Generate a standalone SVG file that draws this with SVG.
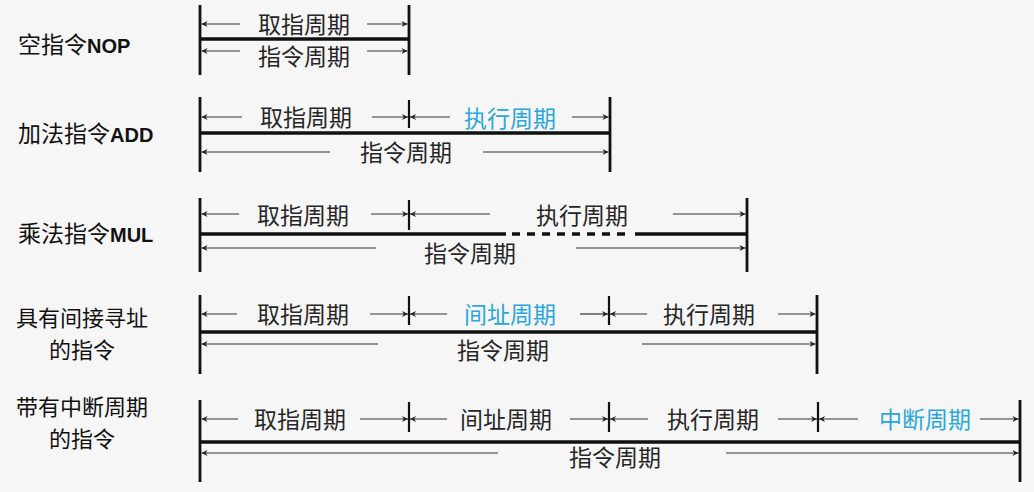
<svg xmlns="http://www.w3.org/2000/svg" width="1034" height="492" viewBox="0 0 1034 492">
<defs>
<style>
.bg{fill:#f6f6f6}
.v{stroke:#111;stroke-width:2.8;fill:none}
.t{stroke:#111;stroke-width:2.2;fill:none}
.th{stroke:#111;stroke-width:3.4;fill:none}
.dash{stroke:#111;stroke-width:3.4;fill:none;stroke-dasharray:8 7}
.a{stroke:#333;stroke-width:1.2;fill:none;marker-end:url(#ah)}
.lbl{font-family:"Noto Sans CJK SC",sans-serif;font-size:23px;fill:#262626;text-anchor:middle}
.blue{fill:#2aa6dd}
.name{font-family:"Noto Sans CJK SC",sans-serif;font-size:23px;fill:#111}
.en{font-family:"Liberation Sans",Arial,sans-serif;font-weight:bold;font-size:20px}
.nm{text-anchor:middle;font-size:22px}
</style>
<marker id="ah" viewBox="0 0 10 10" refX="10" refY="5" markerWidth="8" markerHeight="6" markerUnits="userSpaceOnUse" orient="auto">
<path d="M0,0 L10,5 L0,10 L3,5 z" fill="#222"/>
</marker>
</defs>
<rect class="bg" x="0" y="0" width="1034" height="492"/>

<g id="row-nop">
<text class="name" x="18" y="53">空指令<tspan class="en">NOP</tspan></text>
<line class="v" x1="200" y1="5" x2="200" y2="75"/>
<line class="v" x1="409" y1="5" x2="409" y2="75"/>
<line class="th" x1="200" y1="39" x2="409" y2="39"/>
<text class="lbl" x="304" y="33">取指周期</text>
<text class="lbl" x="304" y="65">指令周期</text>
</g>

<g id="row-add">
<text class="name" x="18" y="142">加法指令<tspan class="en">ADD</tspan></text>
<line class="v" x1="200" y1="97" x2="200" y2="172"/>
<line class="t" x1="409" y1="100" x2="409" y2="128"/>
<line class="v" x1="610" y1="97" x2="610" y2="172"/>
<line class="th" x1="200" y1="133" x2="610" y2="133"/>
<text class="lbl" x="306" y="126">取指周期</text>
<text class="lbl blue" x="510" y="127">执行周期</text>
<text class="lbl" x="406" y="161">指令周期</text>
</g>

<g id="row-mul">
<text class="name" x="18" y="242">乘法指令<tspan class="en">MUL</tspan></text>
<line class="v" x1="200" y1="198" x2="200" y2="272"/>
<line class="t" x1="409" y1="200" x2="409" y2="230"/>
<line class="v" x1="747" y1="198" x2="747" y2="272"/>
<line class="th" x1="200" y1="234" x2="506" y2="234"/>
<line class="dash" x1="512" y1="234" x2="632" y2="234"/>
<line class="th" x1="635" y1="234" x2="747" y2="234"/>
<text class="lbl" x="303" y="224">取指周期</text>
<text class="lbl" x="582" y="224">执行周期</text>
<text class="lbl" x="470" y="262">指令周期</text>
</g>

<g id="row-indirect">
<text class="name nm" x="82" y="326">具有间接寻址</text>
<text class="name nm" x="82" y="358">的指令</text>
<line class="v" x1="200" y1="295" x2="200" y2="374"/>
<line class="t" x1="409" y1="296" x2="409" y2="325"/>
<line class="t" x1="609" y1="296" x2="609" y2="325"/>
<line class="v" x1="817" y1="295" x2="817" y2="374"/>
<line class="th" x1="200" y1="332" x2="817" y2="332"/>
<text class="lbl" x="303" y="323">取指周期</text>
<text class="lbl blue" x="510" y="323">间址周期</text>
<text class="lbl" x="709" y="323">执行周期</text>
<text class="lbl" x="503" y="359">指令周期</text>
</g>

<g id="row-interrupt">
<text class="name nm" x="82" y="415">带有中断周期</text>
<text class="name nm" x="82" y="447">的指令</text>
<line class="v" x1="200" y1="400" x2="200" y2="482"/>
<line class="t" x1="409" y1="402" x2="409" y2="432"/>
<line class="t" x1="609" y1="402" x2="609" y2="432"/>
<line class="t" x1="818" y1="402" x2="818" y2="432"/>
<line class="v" x1="1020" y1="400" x2="1020" y2="482"/>
<line class="th" x1="200" y1="442" x2="1020" y2="442"/>
<text class="lbl" x="300" y="428">取指周期</text>
<text class="lbl" x="506" y="428">间址周期</text>
<text class="lbl" x="713" y="428">执行周期</text>
<text class="lbl blue" x="925" y="428">中断周期</text>
<text class="lbl" x="615" y="466">指令周期</text>
</g>

<g id="connectors">
<!-- row 1 -->
<line class="a" x1="240" y1="24" x2="201.5" y2="24"/>
<line class="a" x1="367" y1="24" x2="407.5" y2="24"/>
<line class="a" x1="240" y1="51" x2="201.5" y2="51"/>
<line class="a" x1="367" y1="51" x2="407.5" y2="51"/>
<!-- row 2 -->
<line class="a" x1="242" y1="117" x2="201.5" y2="117"/>
<line class="a" x1="372" y1="117" x2="408" y2="117"/>
<line class="a" x1="450" y1="117" x2="410" y2="117"/>
<line class="a" x1="572" y1="117" x2="608.5" y2="117"/>
<line class="a" x1="330" y1="152" x2="201.5" y2="152"/>
<line class="a" x1="483" y1="152" x2="608.5" y2="152"/>
<!-- row 3 -->
<line class="a" x1="239" y1="214" x2="201.5" y2="214"/>
<line class="a" x1="371" y1="214" x2="408" y2="214"/>
<line class="a" x1="490" y1="214" x2="410" y2="214"/>
<line class="a" x1="673" y1="214" x2="745.5" y2="214"/>
<line class="a" x1="376" y1="248" x2="201.5" y2="248"/>
<line class="a" x1="576" y1="248" x2="745.5" y2="248"/>
<!-- row 4 -->
<line class="a" x1="237" y1="314" x2="201.5" y2="314"/>
<line class="a" x1="370" y1="314" x2="408" y2="314"/>
<line class="a" x1="447" y1="314" x2="410" y2="314"/>
<line class="a" x1="580" y1="314" x2="608" y2="314"/>
<line class="a" x1="647" y1="314" x2="610" y2="314"/>
<line class="a" x1="778" y1="314" x2="815.5" y2="314"/>
<line class="a" x1="378" y1="344" x2="201.5" y2="344"/>
<line class="a" x1="642" y1="344" x2="815.5" y2="344"/>
<!-- row 5 -->
<line class="a" x1="238" y1="419" x2="201.5" y2="419"/>
<line class="a" x1="360" y1="419" x2="408" y2="419"/>
<line class="a" x1="447" y1="419" x2="410" y2="419"/>
<line class="a" x1="570" y1="419" x2="608" y2="419"/>
<line class="a" x1="648" y1="419" x2="610" y2="419"/>
<line class="a" x1="778" y1="419" x2="817" y2="419"/>
<line class="a" x1="858" y1="419" x2="819" y2="419"/>
<line class="a" x1="980" y1="419" x2="1018.5" y2="419"/>
<line class="a" x1="498" y1="453" x2="201.5" y2="453"/>
<line class="a" x1="726" y1="453" x2="1018.5" y2="453"/>
</g>
</svg>
